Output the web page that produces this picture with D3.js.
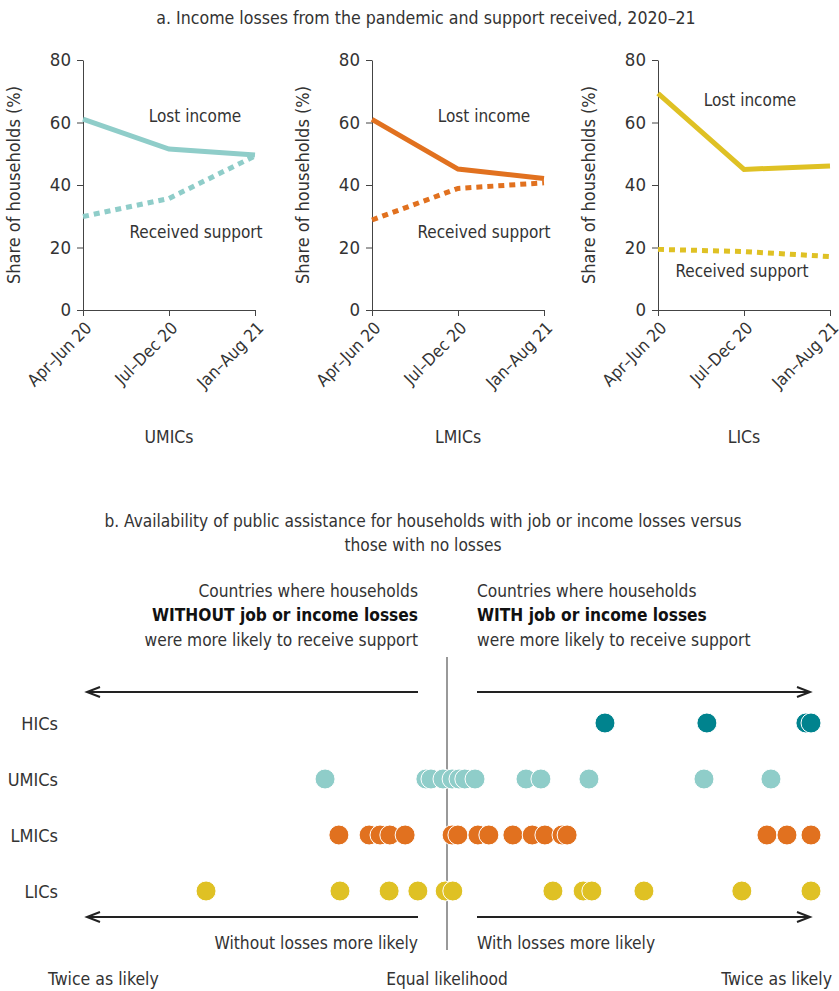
<!DOCTYPE html>
<html>
<head>
<meta charset="utf-8">
<script src="https://cdn.jsdelivr.net/npm/d3@7"></script>
<style>
  body { margin: 0; background: #fff; }
  text { font-family: "Liberation Sans Narrow", "DejaVu Sans Condensed", sans-serif; fill: #333; }
</style>
</head>
<body>
<div id="zone_graphique"></div>
<script>
var largeur = 839;
var hauteur = 991;

// donnees panneau a
var periodes = ["Apr–Jun 20", "Jul–Dec 20", "Jan–Aug 21"];
var groupesA = ["UMICs", "LMICs", "LICs"];
var perteUMIC = [61.1, 51.5, 49.6];
var soutienUMIC = [29.9, 35.7, 49.3];
var perteLMIC = [61, 45.1, 42.1];
var soutienLMIC = [28.8, 38.9, 40.7];
var perteLIC = [69.3, 45, 46.1];
var soutienLIC = [19.4, 18.7, 17.1];
var ticksY = [0, 20, 40, 60, 80];

// donnees panneau b (log2 du rapport avec / sans pertes, borne a +-1)
var groupesB = ["HICs", "UMICs", "LMICs", "LICs"];
var rapportHIC = [0.434, 0.714, 0.986, 1.0];
var rapportUMIC = [-0.335, -0.058, -0.044, -0.011, 0.014, 0.033, 0.049, 0.077, 0.217, 0.258, 0.39, 0.706, 0.89];
var rapportLMIC = [-0.297, -0.214, -0.184, -0.157, -0.115, 0.014, 0.030, 0.085, 0.115, 0.181, 0.234, 0.269, 0.316, 0.330, 0.879, 0.934, 1.0];
var rapportLIC = [-0.662, -0.294, -0.159, -0.080, -0.005, 0.016, 0.291, 0.374, 0.398, 0.541, 0.810, 1.0];

var couleurs = { HICs: "#00838e", UMICs: "#8fcdc9", LMICs: "#e1711f", LICs: "#dfc124" };

var svg = d3.select("#zone_graphique")
    .append("svg")
        .attr("width", largeur)
        .attr("height", hauteur);

// ---------- panneau a ----------
svg.append("text")
    .attr("x", 426).attr("y", 24)
    .attr("text-anchor", "middle")
    .attr("font-size", "17.6px")
    .text("a. Income losses from the pandemic and support received, 2020–21");

var panneaux = [
    {nom: "UMICs", gauche: 83, perte: perteUMIC, soutien: soutienUMIC, couleur: couleurs.UMICs,
     lblPerte: [195, 122], lblSoutien: [196, 238]},
    {nom: "LMICs", gauche: 372, perte: perteLMIC, soutien: soutienLMIC, couleur: couleurs.LMICs,
     lblPerte: [484, 122], lblSoutien: [484, 238]},
    {nom: "LICs", gauche: 658, perte: perteLIC, soutien: soutienLIC, couleur: couleurs.LICs,
     lblPerte: [750, 106], lblSoutien: [742, 277]}
];

var y = d3.scaleLinear()
    .domain([0, 80])
    .range([310, 60]);

panneaux.forEach(function(p) {
    var g = svg.append("g")
        .attr("transform", "translate(" + p.gauche + ",0)");

    var x = d3.scalePoint()
        .domain(periodes)
        .range([0, 172]);

    var axeY = g.append("g")
        .call(d3.axisLeft(y).tickValues(ticksY).tickSize(6).tickSizeOuter(0));
    axeY.selectAll("text").attr("font-size", "18.5px").attr("dx", "-3").style("font-family", null);
    axeY.selectAll("line, path").attr("stroke", "#444");

    var axeX = g.append("g")
        .attr("transform", "translate(0,310)")
        .call(d3.axisBottom(x).tickSize(6).tickSizeOuter(0));
    axeX.selectAll("line, path").attr("stroke", "#444");
    axeX.selectAll("text")
        .attr("font-size", "17px")
        .style("font-family", null)
        .attr("text-anchor", "end")
        .attr("dy", "0.35em")
        .attr("transform", "translate(5,15) rotate(-45)")
        .attr("y", 0).attr("x", 0);

    g.append("text")
        .attr("transform", "translate(-63,185) rotate(-90)")
        .attr("text-anchor", "middle")
        .attr("font-size", "18px")
        .text("Share of households (%)");

    var ligne = d3.line()
        .x(function(d, i) { return x(periodes[i]); })
        .y(function(d) { return y(d); });

    g.append("path")
        .datum(p.soutien)
        .attr("d", ligne)
        .attr("fill", "none")
        .attr("stroke", p.couleur)
        .attr("stroke-width", 5)
        .attr("stroke-dasharray", "6,5");

    g.append("path")
        .datum(p.perte)
        .attr("d", ligne)
        .attr("fill", "none")
        .attr("stroke", p.couleur)
        .attr("stroke-width", 5);

    svg.append("text")
        .attr("x", p.lblPerte[0]).attr("y", p.lblPerte[1])
        .attr("text-anchor", "middle").attr("font-size", "17px")
        .text("Lost income");
    svg.append("text")
        .attr("x", p.lblSoutien[0]).attr("y", p.lblSoutien[1])
        .attr("text-anchor", "middle").attr("font-size", "17px")
        .text("Received support");

    g.append("text")
        .attr("x", 86).attr("y", 443)
        .attr("text-anchor", "middle").attr("font-size", "17.5px")
        .text(p.nom);
});

// ---------- panneau b ----------
svg.append("text")
    .attr("x", 423).attr("y", 527)
    .attr("text-anchor", "middle").attr("font-size", "17.2px")
    .text("b. Availability of public assistance for households with job or income losses versus");
svg.append("text")
    .attr("x", 423).attr("y", 551)
    .attr("text-anchor", "middle").attr("font-size", "17.2px")
    .text("those with no losses");

var xb = d3.scaleLinear()
    .domain([-1, 1])
    .range([83, 811]);

var yb = d3.scalePoint()
    .domain(groupesB)
    .range([723, 891]);

var centre = xb(0);

// entetes
var gaucheTxt = [["Countries where households", "normal"], ["WITHOUT job or income losses", "bold"], ["were more likely to receive support", "normal"]];
var droiteTxt = [["Countries where households", "normal"], ["WITH job or income losses", "bold"], ["were more likely to receive support", "normal"]];
[597, 621, 646].forEach(function(yy, i) {
    svg.append("text")
        .attr("x", centre - 29).attr("y", yy)
        .attr("text-anchor", "end").attr("font-size", "17.2px")
        .attr("font-weight", gaucheTxt[i][1])
        .style("fill", gaucheTxt[i][1] == "bold" ? "#111" : null)
        .text(gaucheTxt[i][0]);
    svg.append("text")
        .attr("x", centre + 30).attr("y", yy)
        .attr("text-anchor", "start").attr("font-size", "17.2px")
        .attr("font-weight", droiteTxt[i][1])
        .style("fill", droiteTxt[i][1] == "bold" ? "#111" : null)
        .text(droiteTxt[i][0]);
});

// ligne d'egalite
svg.append("line")
    .attr("x1", centre).attr("x2", centre)
    .attr("y1", 657).attr("y2", 950)
    .attr("stroke", "#999").attr("stroke-width", 2);

// fleches
function fleche(x1, x2, yy) {
    var sens = x2 > x1 ? 1 : -1;
    svg.append("line")
        .attr("x1", x1).attr("x2", x2)
        .attr("y1", yy).attr("y2", yy)
        .attr("stroke", "#222").attr("stroke-width", 2);
    svg.append("path")
        .attr("d", "M" + (x2 - sens * 13) + "," + (yy - 5) + "L" + x2 + "," + yy + "L" + (x2 - sens * 13) + "," + (yy + 5))
        .attr("fill", "none").attr("stroke", "#222").attr("stroke-width", 2);
}
[692, 917].forEach(function(yy) {
    fleche(centre - 29, xb(-1) + 4, yy);
    fleche(centre + 30, xb(1) - 1, yy);
});

// etiquettes des lignes
svg.selectAll(".lblGroupe")
    .data(groupesB)
    .enter()
    .append("text")
        .attr("x", 58)
        .attr("y", function(d) { return yb(d) + 7; })
        .attr("text-anchor", "end")
        .attr("font-size", "18px")
        .text(function(d) { return d; });

var points = [];
[rapportHIC, rapportUMIC, rapportLMIC, rapportLIC].forEach(function(serie, i) {
    serie.forEach(function(v) { points.push({groupe: groupesB[i], v: v}); });
});

svg.append("g")
    .selectAll("circle")
    .data(points)
    .enter()
    .append("circle")
        .attr("cx", function(d) { return xb(d.v); })
        .attr("cy", function(d) { return yb(d.groupe); })
        .attr("r", 10)
        .style("fill", function(d) { return couleurs[d.groupe]; })
        .style("stroke", "#fff")
        .style("stroke-width", 1);

// textes du bas
svg.append("text")
    .attr("x", centre - 29).attr("y", 949)
    .attr("text-anchor", "end").attr("font-size", "17.3px")
    .text("Without losses more likely");
svg.append("text")
    .attr("x", centre + 30).attr("y", 949)
    .attr("text-anchor", "start").attr("font-size", "17.3px")
    .text("With losses more likely");
svg.append("text")
    .attr("x", 48).attr("y", 985)
    .attr("text-anchor", "start").attr("font-size", "17.5px")
    .text("Twice as likely");
svg.append("text")
    .attr("x", centre).attr("y", 985)
    .attr("text-anchor", "middle").attr("font-size", "17.2px")
    .text("Equal likelihood");
svg.append("text")
    .attr("x", 832).attr("y", 985)
    .attr("text-anchor", "end").attr("font-size", "17.5px")
    .text("Twice as likely");
</script>
</body>
</html>
